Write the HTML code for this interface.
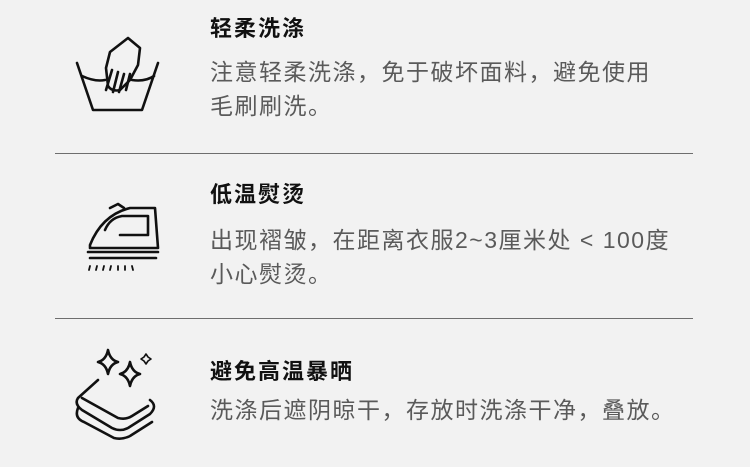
<!DOCTYPE html>
<html><head><meta charset="utf-8"><style>
body{margin:0;width:750px;height:467px;background:#f2f2f2;position:relative;overflow:hidden;font-family:"Liberation Sans","Noto Sans CJK SC",sans-serif}
.t{position:absolute;left:210px;font-size:22px;line-height:22px;font-weight:bold;color:#111;letter-spacing:2px;white-space:nowrap}
.b{position:absolute;left:210px;font-size:23px;line-height:34px;color:#5a5a5a;letter-spacing:1.5px;white-space:nowrap}
.hr{position:absolute;left:55px;width:638px;height:0;border-top:1.5px solid #6e6e6e}
svg{position:absolute}
</style></head><body>
<div class="t" style="top:18px">轻柔洗涤</div>
<div class="b" style="top:55px">注意轻柔洗涤，免于破坏面料，避免使用<br>毛刷刷洗。</div>
<div class="hr" style="top:153px"></div>
<div class="t" style="top:184px">低温熨烫</div>
<div class="b" style="top:223px">出现褶皱，在距离衣服2~3厘米处 &lt; 100度<br>小心熨烫。</div>
<div class="hr" style="top:318px"></div>
<div class="t" style="top:361px">避免高温暴晒</div>
<div class="b" style="top:393px">洗涤后遮阴晾干，存放时洗涤干净，叠放。</div>

<svg width="120" height="420" style="left:60px;top:20px" viewBox="0 0 120 420" fill="none" stroke="#111" stroke-width="2.6" stroke-linejoin="round" stroke-linecap="round">
<path d="M17 43 L33 90 L82 90 L98 43"/>
<path d="M22 56 Q35 62 45 60 M72 60 Q85 62 94 56"/>
<path d="M50 32 L68 18 L80 28 L78 45 L70 60 L60 70 Q52 72 48 66 L46 48 Z"/>
<path d="M52 50 L46 70 M58 52 L53 72 M64 54 L59 72 M70 54 L66 70"/>
<path d="M30 225 Q42 195 70 188 L95 188 L98 228 L30 228 Z"/>
<path d="M45 210 Q50 198 62 196 L88 196 L88 215 L60 215"/>
<path d="M28 232 L98 232 M30 238 L96 238"/>
<path d="M50 188 L58 184 L64 188"/>
<path d="M30 246 l-1 4 M37 246 l-1 4 M44 246 l-1 4 M51 246 l-1 4 M58 246 l0 4 M65 246 l0 4 M72 246 l1 4" stroke-width="1.8"/>
<path d="M48 330 Q50 340 58 342 Q50 344 48 354 Q46 344 38 342 Q46 340 48 330 Z"/>
<path d="M70 342 Q72 352 80 354 Q72 356 70 366 Q68 356 60 354 Q68 352 70 342 Z"/>
<path d="M86 334 l2 3 l3 2 l-3 2 l-2 3 l-2 -3 l-3 -2 l3 -2 Z" stroke-width="1.6"/>
<path d="M38 360 L18 378 Q14 384 22 390 L52 408 Q60 412 68 408 L90 394 Q98 386 90 380"/>
<path d="M22 378 L58 398 Q66 400 72 396 L88 386"/>
<path d="M18 388 Q14 398 24 402 L54 418 Q62 420 70 416 L92 402"/>
</svg>
</body></html>
